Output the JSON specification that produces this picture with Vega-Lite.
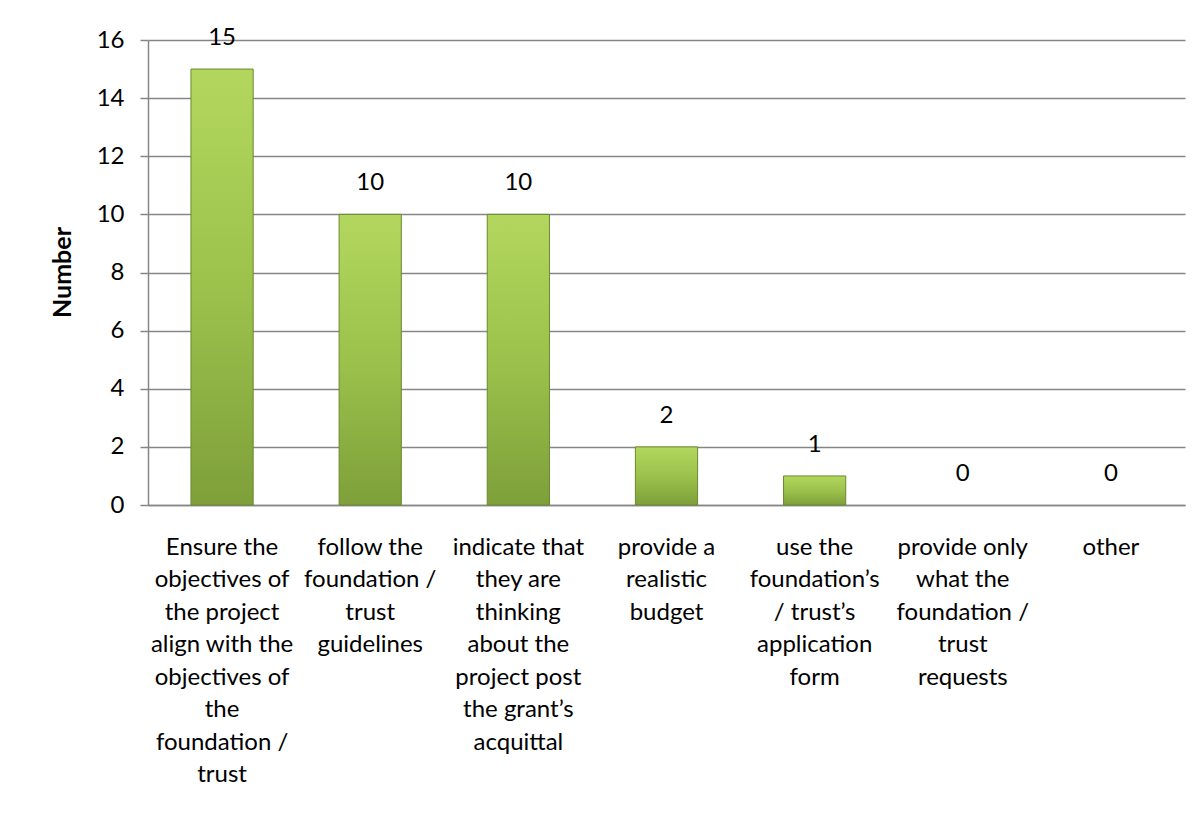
{
  "$schema": "https://vega.github.io/schema/vega-lite/v6.json",
  "width": 1037,
  "height": 465,
  "autosize": {"type": "none"},
  "padding": {"left": 148, "top": 40, "right": 18, "bottom": 309},
  "background": "white",
  "config": {
    "view": {"stroke": null},
    "font": "Lato"
  },
  "data": {
    "values": [
      {"category": "Ensure the|objectives of|the project|align with the|objectives of|the|foundation /|trust", "value": 15},
      {"category": "follow the|foundation /|trust|guidelines", "value": 10},
      {"category": "indicate that|they are|thinking|about the|project post|the grant’s|acquittal", "value": 10},
      {"category": "provide a|realistic|budget", "value": 2},
      {"category": "use the|foundation’s|/ trust’s|application|form", "value": 1},
      {"category": "provide only|what the|foundation /|trust|requests", "value": 0},
      {"category": "other", "value": 0}
    ]
  },
  "encoding": {
    "x": {
      "field": "category",
      "type": "nominal",
      "sort": null,
      "scale": {"paddingInner": 0.58, "paddingOuter": 0.29},
      "axis": {
        "title": null,
        "labelAngle": 0,
        "labelExpr": "split(datum.label, '|')",
        "labelFont": "Lato",
        "labelFontSize": 24,
        "labelColor": "black",
        "labelLineHeight": 32.5,
        "labelBaseline": "top",
        "labelPadding": 30,
        "labelLimit": 0,
        "ticks": false,
        "domainColor": "#868686",
        "domainWidth": 1.5
      }
    },
    "y": {
      "field": "value",
      "type": "quantitative",
      "scale": {"domain": [0, 16]},
      "axis": {
        "title": "Number",
        "titleFont": "Lato",
        "titleFontSize": 25,
        "titleFontWeight": "bold",
        "titleColor": "black",
        "titleAngle": -90,
        "titleX": -86,
        "titleY": 232,
        "titleAlign": "center",
        "titleBaseline": "middle",
        "values": [0, 2, 4, 6, 8, 10, 12, 14, 16],
        "labelFont": "Lato",
        "labelFontSize": 24,
        "labelColor": "black",
        "labelPadding": 16,
        "tickSize": 8,
        "tickColor": "#868686",
        "tickWidth": 1.5,
        "gridColor": "#868686",
        "gridWidth": 1.5,
        "domainColor": "#868686",
        "domainWidth": 1.5
      }
    }
  },
  "layer": [
    {
      "transform": [{"filter": "datum.value > 0"}],
      "mark": {
        "type": "bar",
        "stroke": "#6a8a2c",
        "strokeWidth": 1,
        "color": {
          "gradient": "linear",
          "x1": 0, "y1": 0, "x2": 0, "y2": 1,
          "stops": [
            {"offset": 0, "color": "#b3d75e"},
            {"offset": 0.5, "color": "#9cc24c"},
            {"offset": 1, "color": "#7e9f3a"}
          ]
        }
      }
    },
    {
      "mark": {
        "type": "text",
        "dy": -19,
        "baseline": "bottom",
        "font": "Lato",
        "fontSize": 24,
        "color": "black"
      },
      "encoding": {
        "text": {"field": "value", "type": "quantitative"}
      }
    }
  ]
}
